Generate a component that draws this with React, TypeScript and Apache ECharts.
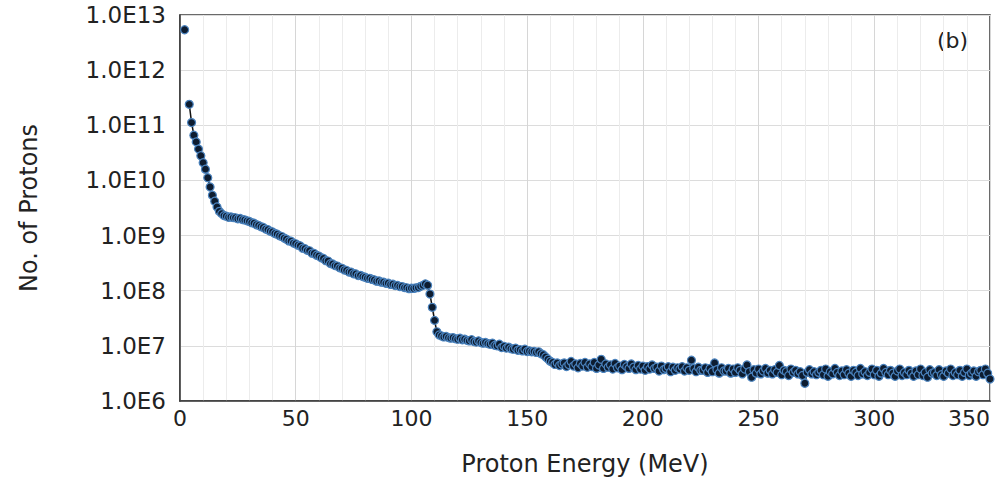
import React, { useEffect, useRef } from "react";
import * as echarts from "echarts";

// Isolated first point (MeV, protons)
const peakPoint: [number, number] = [2, 5.4e12];

// Main curve starts at this energy, 1 MeV per point
const curveStartEnergy = 4;

// 4 .. 112 MeV
const steepValues = [
  2.4e11, 1.12e11, 6.6e10, 5.0e10, 3.7e10, 2.8e10, 2.1e10, 1.6e10, 1.12e10, 7.6e9,
  5.4e9, 4.2e9, 3.3e9, 2.75e9, 2.5e9, 2.3e9, 2.25e9, 2.15e9, 2.17e9, 2.12e9,
  2.1e9, 2.02e9, 2.04e9, 1.95e9, 1.92e9, 1.85e9, 1.8e9, 1.71e9, 1.68e9, 1.57e9,
  1.53e9, 1.45e9, 1.4e9, 1.31e9, 1.28e9, 1.2e9, 1.16e9, 1.09e9, 1.06e9, 9.9e8,
  9.6e8, 9.0e8, 8.6e8, 8.0e8, 7.9e8, 7.3e8, 7.1e8, 6.7e8, 6.5e8, 5.9e8,
  5.8e8, 5.4e8, 5.3e8, 4.8e8, 4.75e8, 4.4e8, 4.25e8, 3.95e8, 3.85e8, 3.5e8,
  3.45e8, 3.1e8, 3.05e8, 2.85e8, 2.8e8, 2.6e8, 2.55e8, 2.38e8, 2.33e8, 2.18e8,
  2.17e8, 2.03e8, 2.02e8, 1.88e8, 1.9e8, 1.8e8, 1.76e8, 1.68e8, 1.68e8, 1.6e8,
  1.57e8, 1.49e8, 1.5e8, 1.43e8, 1.43e8, 1.36e8, 1.37e8, 1.3e8, 1.31e8, 1.24e8,
  1.25e8, 1.19e8, 1.19e8, 1.14e8, 1.13e8, 1.09e8, 1.11e8, 1.1e8, 1.13e8, 1.14e8,
  1.2e8, 1.25e8, 1.33e8, 1.26e8, 8.7e7, 5.0e7, 2.9e7, 1.8e7, 1.58e7,
];

// 113 .. 165 MeV
const shoulderValues = [
  1.51e7, 1.45e7, 1.48e7, 1.41e7, 1.38e7, 1.41e7, 1.35e7, 1.32e7, 1.38e7, 1.29e7,
  1.32e7, 1.26e7, 1.23e7, 1.29e7, 1.2e7, 1.17e7, 1.23e7, 1.15e7, 1.12e7, 1.15e7,
  1.1e7, 1.07e7, 1.12e7, 1.02e7, 1.0e7, 1.07e7, 9.3e6, 9.8e6, 9.1e6, 9.5e6,
  8.9e6, 8.7e6, 9.1e6, 8.3e6, 8.5e6, 8.1e6, 8.7e6, 7.9e6, 8.1e6, 7.8e6,
  7.9e6, 7.6e6, 7.8e6, 7.2e6, 6.9e6, 6.3e6, 5.75e6, 5.25e6, 5.0e6, 4.6e6,
  4.9e6, 4.4e6, 4.7e6,
];

// 166 .. 350 MeV
const tailValues = [
  4.9e6, 4.2e6, 4.6e6, 5.2e6, 4.3e6, 4.7e6, 4.0e6, 4.8e6, 4.3e6, 5.0e6,
  4.1e6, 4.7e6, 4.2e6, 5.0e6, 3.9e6, 4.5e6, 5.7e6, 3.9e6, 4.7e6, 4.1e6,
  4.5e6, 3.8e6, 4.8e6, 4.0e6, 4.3e6, 3.7e6, 4.6e6, 4.2e6, 3.9e6, 4.7e6,
  4.1e6, 3.7e6, 4.4e6, 3.8e6, 4.3e6, 3.6e6, 4.2e6, 3.8e6, 4.5e6, 3.9e6,
  4.1e6, 3.5e6, 4.3e6, 3.7e6, 3.9e6, 4.2e6, 3.4e6, 4.1e6, 3.6e6, 4.0e6,
  3.8e6, 4.2e6, 3.5e6, 4.0e6, 3.6e6, 5.5e6, 3.9e6, 3.4e6, 4.1e6, 3.6e6,
  3.6e6, 4.0e6, 3.3e6, 3.9e6, 3.4e6, 4.9e6, 3.7e6, 3.2e6, 4.0e6, 3.5e6,
  3.5e6, 3.9e6, 3.2e6, 3.8e6, 3.3e6, 4.0e6, 3.6e6, 3.1e6, 3.8e6, 4.5e6,
  3.4e6, 2.7e6, 3.7e6, 3.2e6, 3.8e6, 3.1e6, 3.5e6, 3.9e6, 3.2e6, 3.6e6,
  3.1e6, 3.7e6, 3.3e6, 4.4e6, 3.0e6, 3.6e6, 3.4e6, 2.9e6, 3.8e6, 3.3e6,
  3.6e6, 3.1e6, 3.4e6, 2.9e6, 2.1e6, 3.3e6, 3.7e6, 3.1e6, 3.4e6, 3.0e6,
  3.3e6, 3.6e6, 3.0e6, 3.8e6, 2.8e6, 3.4e6, 3.1e6, 3.9e6, 3.3e6, 2.9e6,
  3.5e6, 3.0e6, 3.7e6, 3.2e6, 2.8e6, 3.6e6, 3.3e6, 2.9e6, 3.9e6, 3.1e6,
  3.4e6, 2.9e6, 3.3e6, 3.8e6, 3.0e6, 3.6e6, 2.8e6, 3.2e6, 3.9e6, 3.3e6,
  3.0e6, 3.6e6, 3.2e6, 2.8e6, 3.5e6, 3.8e6, 2.9e6, 3.3e6, 3.0e6, 3.6e6,
  3.2e6, 2.8e6, 3.5e6, 3.0e6, 3.8e6, 2.9e6, 3.3e6, 2.7e6, 3.7e6, 3.2e6,
  3.3e6, 2.9e6, 3.7e6, 3.0e6, 2.8e6, 3.5e6, 3.2e6, 3.8e6, 2.9e6, 3.3e6,
  3.0e6, 3.6e6, 2.8e6, 3.3e6, 3.8e6, 2.9e6, 3.2e6, 3.5e6, 2.8e6, 3.4e6,
  3.6e6, 3.0e6, 3.8e6, 3.2e6, 2.5e6,
];

const xTitle = "Proton Energy (MeV)";
const yTitle = "No. of Protons";
const panelLabel = "(b)";

const FONT = "DejaVu Sans";

export default function App() {
  const ref = useRef<HTMLDivElement>(null);

  useEffect(() => {
    if (!ref.current) return;
    const chart = echarts.init(ref.current, null, { renderer: "svg" });

    const curveValues = [...steepValues, ...shoulderValues, ...tailValues];
    const curveData = curveValues.map((v, i) => [curveStartEnergy + i, v]);

    const markerStyle = {
      color: "#0d1c30",
      borderColor: "#4a82bd",
      borderWidth: 1.2,
      opacity: 1,
    };

    chart.setOption({
      animation: false,
      backgroundColor: "#ffffff",
      grid: {
        left: 180,
        right: 16,
        top: 15,
        bottom: 82,
        show: true,
        borderColor: "#3a3a3a",
        borderWidth: 1.5,
        backgroundColor: "transparent",
        outerBoundsMode: "none",
      },
      xAxis: {
        type: "value",
        min: 0,
        max: 350,
        interval: 50,
        name: xTitle,
        nameLocation: "middle",
        nameGap: 51,
        nameTextStyle: { fontFamily: FONT, fontSize: 24, color: "#222" },
        axisLine: { show: true, lineStyle: { color: "#3a3a3a", width: 1.5 } },
        axisTick: { show: false },
        axisLabel: {
          fontFamily: FONT,
          fontSize: 22,
          color: "#222",
          margin: 6,
          alignMaxLabel: "right",
        },
        splitLine: { show: true, lineStyle: { color: "#d6d6d6", width: 1 } },
        minorTick: { show: false, splitNumber: 5 },
        minorSplitLine: { show: true, lineStyle: { color: "#ececec", width: 1 } },
      },
      yAxis: {
        type: "log",
        logBase: 10,
        min: 1e6,
        max: 1e13,
        name: yTitle,
        nameLocation: "middle",
        nameGap: 139,
        nameRotate: 90,
        nameTextStyle: { fontFamily: FONT, fontSize: 24, color: "#222" },
        axisLine: { show: true, lineStyle: { color: "#3a3a3a", width: 1.5 } },
        axisTick: { show: false },
        axisLabel: {
          fontFamily: FONT,
          fontSize: 23,
          color: "#222",
          margin: 14,
          formatter: (v: number) => "1.0E" + Math.round(Math.log10(v)),
        },
        splitLine: { show: true, lineStyle: { color: "#dcdcdc", width: 1 } },
      },
      graphic: [
        {
          type: "text",
          left: 937,
          top: 29,
          style: {
            text: panelLabel,
            fontFamily: FONT,
            fontSize: 22,
            fill: "#222",
          },
        },
      ],
      series: [
        {
          type: "scatter",
          data: [peakPoint],
          symbol: "circle",
          symbolSize: 8,
          itemStyle: markerStyle,
        },
        {
          type: "line",
          data: curveData,
          symbol: "circle",
          symbolSize: 8,
          showSymbol: true,
          showAllSymbol: true,
          lineStyle: { color: "#111111", width: 1.5 },
          itemStyle: markerStyle,
        },
      ],
    });

    return () => chart.dispose();
  }, []);

  return (
    <div
      ref={ref}
      style={{ position: "fixed", left: 0, top: 0, width: 1006, height: 483 }}
    />
  );
}
